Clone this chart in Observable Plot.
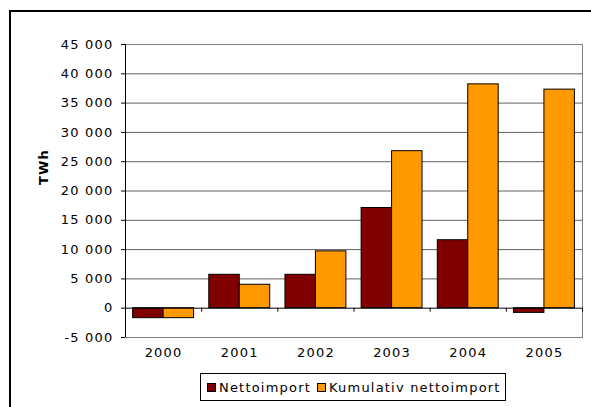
<!DOCTYPE html>
<html>
<head>
<meta charset="utf-8">
<script src="https://cdn.jsdelivr.net/npm/d3@7"></script>
<script src="https://cdn.jsdelivr.net/npm/@observablehq/plot@0.6"></script>
<style>
  body { margin: 0; background: #fff; }
  #wrap { position: relative; width: 591px; height: 407px; overflow: hidden; background: #fff;
          font-family: "DejaVu Sans", Verdana, sans-serif; }
  #outer { position: absolute; left: 9px; top: 10px; width: 700px; height: 500px;
           border-left: 2px solid #000; border-top: 2px solid #000; }
  #chart { position: absolute; left: 0; top: 0; }
  #legend { position: absolute; left: 200px; top: 373px; width: 304px; height: 26px;
            border: 1px solid #000; background: #fff; display: flex; align-items: center;
            font-size: 13px; letter-spacing: 1.2px; color: #000; white-space: nowrap; }
  .item { display: flex; align-items: center; }
  .sw { width: 7px; height: 7px; border: 1px solid #000; margin-left: 6px; margin-right: 3px; }
</style>
</head>
<body>
<div id="wrap">
  <div id="outer"></div>
  <div id="chart"></div>
  <div id="legend"></div>
</div>
<script>
// ---- data ----
const years = [2000, 2001, 2002, 2003, 2004, 2005];
const netto = [-1700, 5700, 5700, 17100, 11600, -800];
const kumulativ = [-1700, 4000, 9700, 26800, 38200, 37300];
const seriesNames = ["Nettoimport", "Kumulativ nettoimport"];
const seriesColors = ["#800000", "#FF9900"];
const yTicks = [-5000, 0, 5000, 10000, 15000, 20000, 25000, 30000, 35000, 40000, 45000];
const yLabel = "TWh";

// ---- table built from arrays ----
const rows = [];
years.forEach((yr, i) => {
  rows.push({i, year: yr, series: seriesNames[0], value: netto[i], side: 0});
  rows.push({i, year: yr, series: seriesNames[1], value: kumulativ[i], side: 1});
});
const boundaries = d3.range(years.length + 1).map(k => k - 0.5);

const fmt = d => (d < 0 ? "-" : "") + d3.format(",")(Math.abs(d)).replace(/,/g, " ");

const chart = Plot.plot({
  width: 591,
  height: 360,
  marginLeft: 125,
  marginRight: 9,
  marginTop: 44,
  marginBottom: 23,
  style: { fontFamily: "'DejaVu Sans', Verdana, sans-serif", fontSize: "13px", letterSpacing: "1.2px", background: "transparent", color: "#000" },
  x: { type: "linear", domain: [-0.5, years.length - 0.5] },
  y: { domain: [-5000, 45000] },
  color: { domain: seriesNames, range: seriesColors },
  marks: [
    Plot.ruleY(yTicks.filter(t => t !== 0 && t !== -5000), { stroke: "#606060", strokeWidth: 1 }),
    Plot.frame({ stroke: "#808080", strokeWidth: 1 }),
    Plot.rect(rows, {
      x1: d => d.side === 0 ? d.i - 0.4 : d.i,
      x2: d => d.side === 0 ? d.i : d.i + 0.4,
      y1: 0,
      y2: "value",
      fill: "series",
      stroke: "#000",
      strokeWidth: 1
    }),
    Plot.ruleY([0], { stroke: "#000", strokeWidth: 1 }),
    Plot.ruleX(boundaries, { y1: 0, y2: 0, insetBottom: -4, stroke: "#000" }),
    Plot.ruleX([-0.5], { stroke: "#000", strokeWidth: 1 }),
    Plot.axisY({ ticks: yTicks, tickFormat: fmt, tickSize: 4, tickPadding: 8, label: null }),
    Plot.axisX({ ticks: years.map((_, i) => i), tickFormat: i => String(years[i]), tickSize: 0, tickPadding: 10, label: null }),
    Plot.text([yLabel], { frameAnchor: "left", dx: -82, dy: -6, rotate: -90, fontWeight: "bold", fontSize: 13 })
  ]
});
document.getElementById("chart").appendChild(chart);

// ---- legend ----
const legend = document.getElementById("legend");
seriesNames.forEach((name, k) => {
  const item = document.createElement("div");
  item.className = "item";
  const sw = document.createElement("span");
  sw.className = "sw";
  sw.style.background = seriesColors[k];
  const label = document.createElement("span");
  label.textContent = name;
  item.appendChild(sw);
  item.appendChild(label);
  legend.appendChild(item);
});
</script>
</body>
</html>
